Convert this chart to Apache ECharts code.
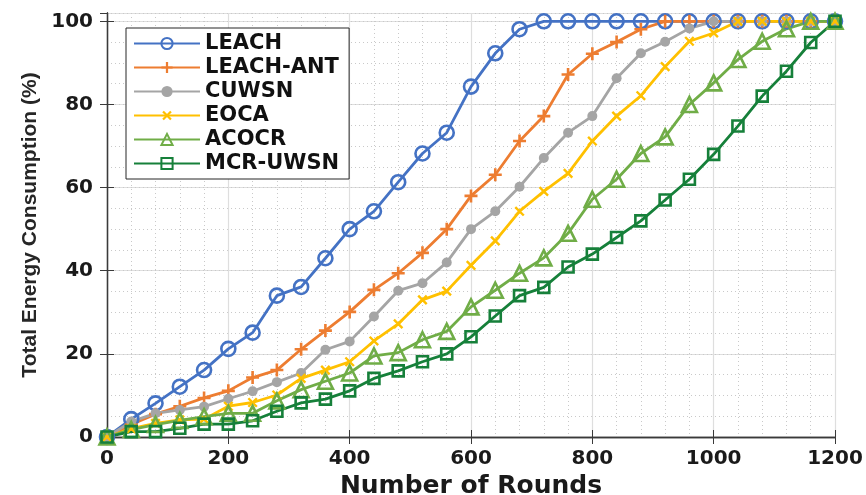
<!DOCTYPE html>
<html lang="en">
<head>
    <meta charset="UTF-8"/>
    <title>Total Energy Consumption</title>
    <script src="https://cdn.jsdelivr.net/npm/echarts@6/dist/echarts.min.js"></script>
    <style>
        html, body { margin: 0; padding: 0; background: #fff; }
        #main { width: 866px; height: 495px; }
    </style>
</head>
<body>
<div id="main"></div>

<script type="text/javascript">
    // rounds 0..1200, step 40
    var rounds = [];
    for (var r = 0; r <= 1200; r += 40) rounds.push(r);

    var names = ['LEACH', 'LEACH-ANT', 'CUWSN', 'EOCA', 'ACOCR', 'MCR-UWSN'];

    var leach = [0, 4.3, 8.1, 12.1, 16.1, 21.2, 25.1, 34, 36.1, 43, 50, 54.3, 61.3, 68.2, 73.2, 84.3,
        92.3, 98.1, 100, 100, 100, 100, 100, 100, 100, 100, 100, 100, 100, 100, 100];
    var leachAnt = [0, 3, 5.5, 7.4, 9.4, 11.1, 14.3, 16.1, 21.1, 25.6, 30.1, 35.4, 39.4, 44.3, 50, 58,
        63.1, 71.2, 77.2, 87.2, 92.2, 95, 98.1, 100, 100, 100, 100, 100, 100, 100, 100];
    var cuwsn = [0, 3.7, 5.7, 6.5, 7.3, 9.2, 11, 13.2, 15.4, 21, 23, 29, 35.2, 37, 42, 50,
        54.3, 60.2, 67.1, 73.2, 77.2, 86.3, 92.3, 95.1, 98.3, 100, 100, 100, 100, 100, 100];
    var eoca = [0, 2, 3.3, 4.1, 4.3, 7.4, 8.3, 10.1, 14.1, 16.1, 18.1, 23.1, 27.2, 33, 35.1, 41.3,
        47.2, 54.3, 59.1, 63.4, 71.2, 77.2, 82.1, 89.1, 95.2, 97.2, 100, 100, 100, 100, 100];
    var acocr = [0, 1.8, 3, 4, 4.9, 5.7, 5.7, 8.7, 11.4, 13.4, 15.4, 19.5, 20.3, 23.4, 25.4, 31.3,
        35.3, 39.4, 43.1, 49, 57.2, 62, 68.2, 72.2, 80, 85.2, 90.8, 95.2, 98.2, 100, 100];
    var mcr = [0, 1.3, 1.3, 2.1, 3.1, 3.1, 3.9, 6.2, 8.2, 9.1, 11.1, 14.1, 15.9, 18.1, 20, 24.1,
        29.1, 34, 36, 40.9, 44, 48, 52, 57, 62, 68, 74.8, 82, 88, 94.9, 100];

    var xTicks = [0, 200, 400, 600, 800, 1000, 1200];
    var yTicks = [0, 20, 40, 60, 80, 100];

    var colors = ['#4472C4', '#ED7D31', '#A5A5A5', '#FFC000', '#70AD47', '#16803A'];
    var plusPath = 'path://M-1,-0.2H1V0.2H-1Z M-0.2,-1H0.2V1H-0.2Z';

    function pairs(vals) {
        return rounds.map(function (x, i) { return [x, vals[i]]; });
    }

    function mkSeries(name, vals, color, symbol, size, hollow, rotate) {
        return {
            name: name,
            type: 'line',
            data: pairs(vals),
            symbol: symbol,
            symbolSize: size,
            symbolRotate: rotate || 0,
            showAllSymbol: true,
            lineStyle: { color: color, width: 2.8 },
            itemStyle: hollow
                ? { color: 'rgba(255,255,255,0)', borderColor: color, borderWidth: 2.6 }
                : { color: color, borderWidth: 0 },
            emphasis: { disabled: true }
        };
    }

    var axisColor = '#3a3a3a';
    var labelFont = {
        fontFamily: 'DejaVu Sans', fontWeight: 'bold', fontSize: 20, color: '#1a1a1a',
        formatter: function (v) { return String(v); }
    };

    var myChart = echarts.init(document.getElementById('main'));
    var option = {
        animation: false,
        backgroundColor: '#fff',
        grid: { left: 107, right: 31, top: 13, bottom: 58, containLabel: false, outerBoundsMode: 'none' },
        legend: {
            orient: 'vertical',
            left: 126,
            top: 28,
            padding: [5, 10, 5, 7],
            itemWidth: 66,
            itemHeight: 14,
            itemGap: 3,
            backgroundColor: '#fff',
            borderColor: '#262626',
            borderWidth: 1,
            textStyle: { fontFamily: 'DejaVu Sans', fontWeight: 'bold', fontSize: 21, color: '#111' },
            data: names
        },
        xAxis: [{
            type: 'value', min: xTicks[0], max: xTicks[xTicks.length - 1], interval: 200,
            position: 'bottom',
            name: 'Number of Rounds', nameLocation: 'middle', nameGap: 25,
            nameTextStyle: { fontFamily: 'DejaVu Sans', fontWeight: 'bold', fontSize: 25, color: '#1a1a1a' },
            axisLine: { lineStyle: { color: axisColor, width: 1.3 } },
            axisTick: { inside: true, length: 7, lineStyle: { color: axisColor } },
            axisLabel: Object.assign({ margin: 12 }, labelFont),
            splitLine: { show: true, lineStyle: { color: '#dedede', width: 1.2 } },
            minorTick: { show: false, splitNumber: 5 },
            minorSplitLine: { show: true, lineStyle: { color: '#c9c9c9', width: 1, type: [1, 3] } }
        }, {
            type: 'value', min: 0, max: 1200, interval: 200, position: 'top',
            axisLine: { lineStyle: { color: axisColor, width: 1.3 } },
            axisTick: { inside: true, length: 7, lineStyle: { color: axisColor } },
            axisLabel: { show: false },
            splitLine: { show: false }
        }],
        yAxis: [{
            type: 'value', min: yTicks[0], max: 102, interval: 20,
            position: 'left',
            name: 'Total Energy Consumption (%)', nameLocation: 'middle', nameGap: 66,
            nameTextStyle: { fontFamily: 'Liberation Sans', fontWeight: 'bold', fontSize: 21, color: '#262626' },
            axisLine: { lineStyle: { color: axisColor, width: 1.3 } },
            axisTick: { inside: true, length: 7, lineStyle: { color: axisColor } },
            axisLabel: Object.assign({ margin: 14, showMaxLabel: false }, labelFont),
            splitLine: { show: true, lineStyle: { color: '#dedede', width: 1.2 } }
        }, {
            type: 'value', min: 0, max: 102, interval: 20, position: 'right',
            axisLine: { show: true, lineStyle: { color: axisColor, width: 1.3 } },
            axisTick: { show: true, inside: true, length: 7, lineStyle: { color: axisColor } },
            axisLabel: { show: false },
            splitLine: { show: false }
        }, {
            // minor dotted grid for y
            type: 'value', min: 0, max: 102, interval: 5, position: 'right',
            axisLine: { show: false }, axisTick: { show: false }, axisLabel: { show: false },
            splitLine: { show: true, lineStyle: { color: '#c9c9c9', width: 1, type: [1, 3] } }
        }],
        series: [
            mkSeries(names[0], leach, colors[0], 'circle', 14, true),
            mkSeries(names[1], leachAnt, colors[1], plusPath, 13, false),
            mkSeries(names[2], cuwsn, colors[2], 'circle', 10, false),
            mkSeries(names[3], eoca, colors[3], plusPath, 12, false, 45),
            mkSeries(names[4], acocr, colors[4], 'triangle', 15, true),
            mkSeries(names[5], mcr, colors[5], 'rect', 11, true)
        ]
    };
    myChart.setOption(option);
</script>
</body>
</html>
